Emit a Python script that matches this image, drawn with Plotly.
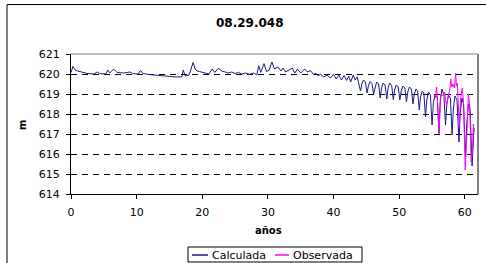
import plotly.graph_objects as go

# ---------------- data ----------------
title_text = "08.29.048"
x_title = "años"
y_title = "m"
series_names = ["Calculada", "Observada"]
series_colors = ["#1a1a8c", "#ff00ff"]

calc_years = [
    0.0, 0.3, 0.7, 1.4, 2.4, 3.5, 4.0, 4.4, 5.3, 5.6, 5.9, 6.5, 7.0, 8.0, 9.0, 9.4,
    10.2, 10.6, 11.0, 12.0, 13.0, 14.0, 15.0, 16.0, 16.9, 17.1, 17.4, 18.0, 18.6,
    18.9, 19.2, 19.6, 20.2, 21.0, 21.5, 21.9, 22.5, 22.9, 23.5, 24.0, 24.5, 25.0,
    25.5, 26.0, 26.6, 27.2, 27.8, 28.3, 28.6, 28.9, 29.4, 29.8, 30.2, 30.6, 31.0,
    31.5, 32.0, 32.3, 32.7, 33.2, 33.7, 34.1, 34.5, 35.0, 35.6, 36.0, 36.5, 37.0,
    37.2, 37.7, 38.0, 38.5, 39.0, 39.5, 40.0, 40.4, 40.8, 41.2, 41.6, 42.0, 42.3,
    42.6, 43.0, 43.3, 43.6,
    44.1, 44.3, 44.55, 44.85,
    45.1, 45.3, 45.55, 45.85,
    46.1, 46.3, 46.55, 46.85,
    47.1, 47.3, 47.55, 47.85,
    48.1, 48.3, 48.55, 48.85,
    49.1, 49.3, 49.55, 49.85,
    50.1, 50.3, 50.55, 50.85,
    51.1, 51.3, 51.55, 51.85,
    52.1, 52.3, 52.55, 52.8,
    53.05, 53.25, 53.5, 53.75,
    54.0, 54.2, 54.45, 54.75,
    55.0, 55.2, 55.45, 55.8,
    56.05, 56.25, 56.5, 56.8,
    57.05, 57.25, 57.5, 57.8,
    58.05, 58.25, 58.5, 58.8,
    59.1, 59.3, 59.55, 59.8,
    60.1, 60.3, 60.55, 60.8,
    61.1, 61.4,
]
calc_m = [
    620.08, 620.38, 620.18, 620.12, 620.03, 620.0, 620.1, 620.02, 620.0, 620.2,
    620.05, 620.25, 620.08, 620.05, 620.1, 620.02, 620.0, 620.17, 620.02, 619.97,
    619.95, 619.92, 619.88, 619.85, 619.86, 620.2, 619.9, 619.95, 620.58, 620.25,
    620.15, 620.12, 620.08, 620.0, 620.25, 620.08, 620.3, 620.15, 620.1, 620.05,
    620.1, 620.02, 620.08, 620.0, 620.05, 619.98, 620.05, 619.95, 620.42, 620.08,
    620.52, 620.12, 620.2, 620.6, 620.25, 620.35, 620.15, 620.3, 620.1, 620.2,
    620.3, 620.05, 620.25, 620.05, 620.25, 620.1, 620.17, 619.95, 620.05, 619.9,
    620.0, 619.85, 619.95, 619.8, 619.98, 619.75, 619.95, 619.7, 619.92, 619.68,
    619.9, 619.6, 619.95, 619.7, 619.85,
    619.15, 619.5, 619.7, 619.6,
    619.05, 619.4, 619.62, 619.52,
    619.0, 619.35, 619.6, 619.5,
    618.8, 619.3, 619.55, 619.45,
    618.75, 619.3, 619.55, 619.42,
    618.72, 619.2, 619.45, 619.35,
    618.7, 619.15, 619.4, 619.3,
    618.6, 619.1, 619.35, 619.25,
    618.5, 619.0, 619.25, 619.15,
    618.2, 618.85, 619.15, 619.05,
    617.85, 618.7, 619.1, 618.95,
    617.45, 618.55, 618.95, 618.85,
    617.05, 618.6, 619.25, 618.95,
    617.45, 618.5, 618.95, 618.8,
    616.95, 618.3, 618.9, 618.7,
    616.6, 618.1, 618.8, 618.5,
    615.85, 617.6, 618.5, 618.2,
    615.4, 617.3,
]

obs_years = [
    55.5, 55.7, 55.9, 56.05, 56.3, 56.6, 56.9, 57.2, 57.5, 57.7, 57.85, 58.0, 58.2,
    58.4, 58.6, 58.7, 58.85, 59.0, 59.15, 59.35, 59.6, 59.8, 60.05, 60.3, 60.55,
    60.75, 60.95, 61.15, 61.3, 61.4,
]
obs_m = [
    618.8, 619.35, 618.2, 617.0, 619.0, 618.9, 619.1, 618.4, 618.95, 619.2, 619.75,
    619.35, 619.5, 619.3, 620.05, 619.4, 619.55, 618.6, 617.4, 618.8, 619.3, 618.6,
    615.2, 617.0, 619.0, 618.3, 615.6, 616.2, 617.5, 617.1,
]

y_ticks = [614, 615, 616, 617, 618, 619, 620, 621]
x_ticks = [0, 10, 20, 30, 40, 50, 60]

# ---------------- layout helpers ----------------
W, H = 486, 263
L, R, T, B = 71, 8, 54, 69
PW, PH = W - L - R, H - T - B


def px(x):
    return (x - L) / PW


def py(y):
    return (H - B - y) / PH


FONT = "DejaVu Sans"

fig = go.Figure()
fig.add_trace(go.Scatter(x=calc_years, y=calc_m, mode="lines", name=series_names[0],
                         line=dict(color=series_colors[0], width=1), showlegend=False))
fig.add_trace(go.Scatter(x=obs_years, y=obs_m, mode="lines", name=series_names[1],
                         line=dict(color=series_colors[1], width=1), showlegend=False))

# legend box drawn by hand (compact, Excel-like)
leg_box = (188, 247, 362, 262)
leg_items = [(192, 208, 211), (275, 289, 292)]  # line start, line end, text start
leg_y = 255

shapes = [
    # plot-area border (grey, top & right)
    dict(type="line", xref="paper", yref="paper", x0=1, x1=1, y0=0, y1=1,
         line=dict(color="#808080", width=2), layer="above"),
    dict(type="line", xref="paper", yref="paper", x0=0, x1=1, y0=1, y1=1,
         line=dict(color="#808080", width=1), layer="below"),
    # chart-area outer frame (black, top & left)
    dict(type="line", xref="paper", yref="paper", x0=px(7), x1=px(7),
         y0=py(H + 5), y1=py(4.5), line=dict(color="black", width=1)),
    dict(type="line", xref="paper", yref="paper", x0=px(7), x1=px(W + 5),
         y0=py(4.5), y1=py(4.5), line=dict(color="black", width=1)),
    # legend frame
    dict(type="rect", xref="paper", yref="paper", x0=px(leg_box[0]), x1=px(leg_box[2]),
         y0=py(leg_box[3]), y1=py(leg_box[1]), line=dict(color="black", width=1),
         fillcolor="white"),
]
annotations = [
    dict(text="<b>" + title_text + "</b>", xref="paper", yref="paper",
         x=px(250), y=py(23), xanchor="center", yanchor="middle",
         showarrow=False, font=dict(family=FONT, size=12, color="black")),
    dict(text="<b>" + x_title + "</b>", xref="paper", yref="paper",
         x=px(268), y=py(230), xanchor="center", yanchor="middle",
         showarrow=False, font=dict(family=FONT, size=10, color="black")),
    dict(text="<b>" + y_title + "</b>", xref="paper", yref="paper",
         x=px(22), y=py(125), xanchor="center", yanchor="middle", textangle=-90,
         showarrow=False, font=dict(family=FONT, size=10, color="black")),
]
for (x0, x1, xt), name, col in zip(leg_items, series_names, series_colors):
    shapes.append(dict(type="line", xref="paper", yref="paper", x0=px(x0), x1=px(x1),
                       y0=py(leg_y), y1=py(leg_y), line=dict(color=col, width=1.5)))
    annotations.append(dict(text=name, xref="paper", yref="paper", x=px(xt), y=py(leg_y),
                            xanchor="left", yanchor="middle", showarrow=False,
                            borderpad=0,
                            font=dict(family=FONT, size=11, color="black")))

fig.update_layout(
    width=W, height=H,
    margin=dict(l=L, r=R, t=T, b=B, pad=0, autoexpand=False),
    paper_bgcolor="white", plot_bgcolor="white",
    font=dict(family=FONT, size=11, color="black"),
    showlegend=False,
    xaxis=dict(range=[0, 62], tickvals=x_ticks, showgrid=False, zeroline=False,
               showline=True, linecolor="black", linewidth=1,
               ticks="outside", ticklen=4, tickcolor="black", ticklabelstandoff=4,
               tickfont=dict(family=FONT, size=11), fixedrange=True),
    yaxis=dict(range=[614, 621], tickvals=y_ticks, showgrid=True, gridcolor="black",
               gridwidth=1, griddash="6px,5px", zeroline=False,
               showline=True, linecolor="black", linewidth=1,
               ticks="outside", ticklen=4, tickcolor="black", ticklabelstandoff=4,
               tickfont=dict(family=FONT, size=11), fixedrange=True),
    shapes=shapes,
    annotations=annotations,
)

fig.write_html("out.html", config={"displayModeBar": False},
               post_script="document.body.style.margin='0';document.body.style.overflow='hidden';")
